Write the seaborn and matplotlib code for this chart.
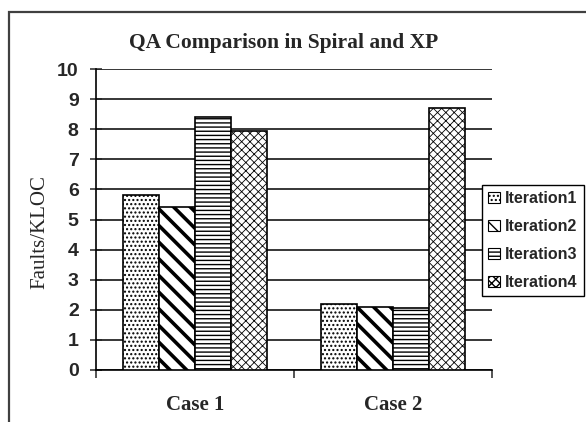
import matplotlib
matplotlib.use("Agg")
import matplotlib.pyplot as plt
import numpy as np
import pandas as pd
import seaborn as sns
from matplotlib.patches import Patch, Rectangle

# data
cases = ["Case 1", "Case 2"]
iterations = ["Iteration1", "Iteration2", "Iteration3", "Iteration4"]
iter1 = [5.8, 2.2]
iter2 = [5.4, 2.1]
iter3 = [8.4, 2.05]
iter4 = [7.95, 8.7]
y_ticks = [0, 1, 2, 3, 4, 5, 6, 7, 8, 9, 10]

hatches = ["....", "\\\\", "----", "xxxx"]
hatch_widths = [1.0, 2.6, 1.0, 0.6]

rows = []
for name, vals in zip(iterations, [iter1, iter2, iter3, iter4]):
    for c, v in zip(cases, vals):
        rows.append({"Case": c, "Iteration": name, "Faults": v})
df = pd.DataFrame(rows)

sns.set_style("white")
plt.rcParams["hatch.color"] = "black"
plt.rcParams["hatch.linewidth"] = 1.0

fig = plt.figure(figsize=(5.86, 4.22), dpi=100)
ax = fig.add_axes([96 / 586, 52 / 422, 396 / 586, 301 / 422])

palette = {n: "white" for n in iterations}
sns.barplot(data=df, x="Case", y="Faults", hue="Iteration", hue_order=iterations,
            order=cases, palette=palette, width=0.73, edgecolor="black",
            linewidth=1.2, legend=False, ax=ax, zorder=3)

# hatch each bar, bars come in hue order
for i, bar in enumerate(ax.patches[:len(iterations) * len(cases)]):
    k = i // len(cases)
    bar.set_hatch(hatches[k])
    if hasattr(bar, "set_hatch_linewidth"):
        bar.set_hatch_linewidth(hatch_widths[k])

ax.set_ylim(0, 10)
ax.set_yticks(y_ticks)
ax.set_xlim(-0.5, 1.5)
ax.set_xticks([-0.5, 0.5, 1.5], minor=False)
ax.set_xticklabels([])
ax.yaxis.grid(True, color="black", linewidth=1.1, zorder=0)
ax.set_axisbelow(True)
for s in ["top", "right"]:
    ax.spines[s].set_visible(False)
for s in ["left", "bottom"]:
    ax.spines[s].set_color("black")
    ax.spines[s].set_linewidth(1.2)
ax.tick_params(axis="y", direction="inout", length=9, width=1.1, pad=8,
               labelsize=14, left=True)
ax.tick_params(axis="x", direction="out", length=6, width=1.1, bottom=True)
for lab in ax.get_yticklabels():
    lab.set_fontfamily("Liberation Sans")
    lab.set_fontweight("bold")
ax.set_xlabel("")
ax.set_ylabel("")

# category labels
for i, c in enumerate(cases):
    ax.text(i, -1.15, c, ha="center", va="center", fontsize=15,
            fontweight="bold", fontfamily="Liberation Serif")

fig.text(284 / 586, 1 - 43 / 422, "QA Comparison in Spiral and XP",
         ha="center", va="center", fontsize=15.5, fontweight="bold",
         fontfamily="Liberation Serif")
fig.text(40 / 586, 1 - 232 / 422, "Faults/KLOC", rotation=90,
         ha="center", va="center", fontsize=15, fontfamily="Liberation Serif")

handles = [Patch(facecolor="white", edgecolor="black", hatch=h, linewidth=0.8)
           for h in hatches]
leg = fig.legend(handles, iterations, loc="upper left",
                 bbox_to_anchor=(482 / 586, 1 - 185 / 422),
                 frameon=True, fancybox=False, framealpha=1,
                 handlelength=0.7, handleheight=0.7, handletextpad=0.35,
                 labelspacing=0.8, borderpad=0.4, borderaxespad=0,
                 prop={"family": "Liberation Sans", "weight": "bold", "size": 11.5})
leg.get_frame().set_edgecolor("black")
leg.get_frame().set_linewidth(1.0)

# outer chart border (left and top visible)
fig.add_artist(Rectangle((9 / 586, -0.1), 1.2, 1 - 12 / 422 + 0.1,
                         transform=fig.transFigure, fill=False,
                         edgecolor="#404040", linewidth=1.6))

fig.savefig("out.png", dpi=100)
